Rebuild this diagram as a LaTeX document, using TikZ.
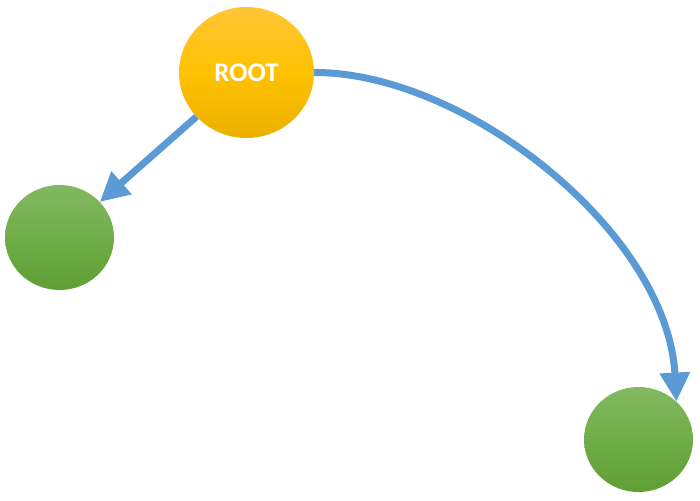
\documentclass[tikz,border=0pt]{standalone}
\usepackage{fontspec}
\setmainfont{Carlito}
\usetikzlibrary{shapes.geometric,arrows.meta}
\definecolor{linkblue}{HTML}{5B9BD5}
\definecolor{rootTop}{HTML}{FFC537}
\definecolor{rootMid}{HTML}{FEC200}
\definecolor{rootBot}{HTML}{EBB000}
\definecolor{leafTop}{HTML}{82B962}
\definecolor{leafMid}{HTML}{70AD47}
\definecolor{leafBot}{HTML}{5F9F35}
\tikzset{
  rootnode/.style={ellipse, inner sep=0pt, minimum width=135pt, minimum height=131pt,
    top color=rootTop, bottom color=rootBot, middle color=rootMid,
    text=white, font=\bfseries\fontsize{27}{32}\selectfont},
  leafnode/.style={ellipse, inner sep=0pt, minimum width=109pt, minimum height=105pt,
    top color=leafTop, bottom color=leafBot, middle color=leafMid},
  link/.style={draw=linkblue, line width=7pt, -{Triangle[length=29pt,width=29pt]}}
}
\begin{document}
\begin{tikzpicture}[x=1pt,y=-1pt]
  \useasboundingbox (0,0) rectangle (700,500);
  \node[rootnode] (root) at (246.5,72.5) {ROOT};
  \node[leafnode] (left) at (59.5,237.5) {};
  \node[leafnode] (right) at (638.5,439.5) {};
  \draw[link] (root) -- (left);
  \draw[link] (root.east) .. controls (465,72) and (667,232) .. (right.45);
\end{tikzpicture}
\end{document}
